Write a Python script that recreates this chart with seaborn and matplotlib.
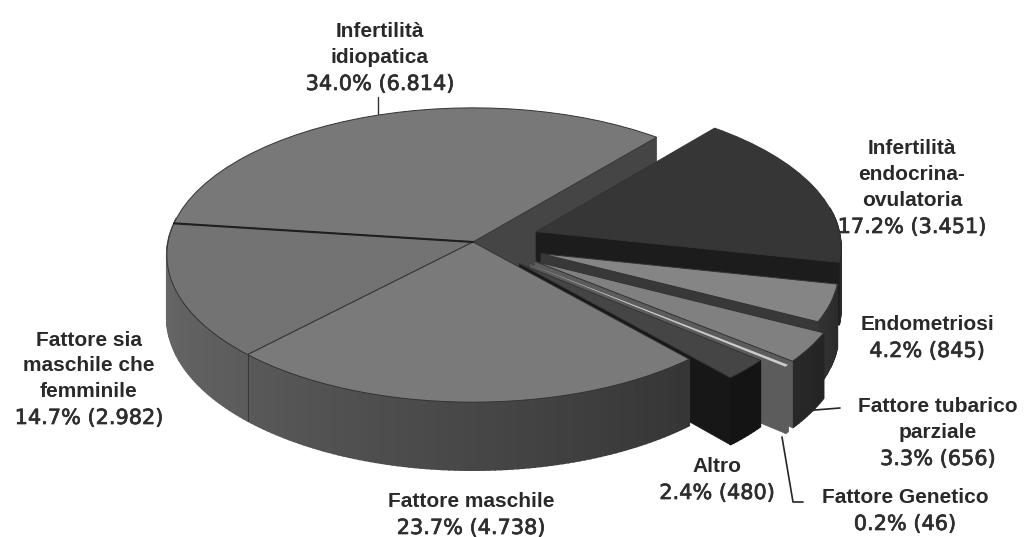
import numpy as np
import seaborn as sns
import matplotlib
matplotlib.use("Agg")
import matplotlib.pyplot as plt
import matplotlib.patheffects as pe
from matplotlib.path import Path
from matplotlib.transforms import Transform

# ---- data (counter-clockwise from the first slice) ----
names = ["Infertilità\nidiopatica", "Fattore sia\nmaschile che\nfemminile", "Fattore maschile",
         "Altro", "Fattore Genetico", "Fattore tubarico\nparziale", "Endometriosi",
         "Infertilità\nendocrina-\novulatoria"]
counts = [6814, 2982, 4738, 480, 46, 656, 845, 3451]
percents = ["34.0%", "14.7%", "23.7%", "2.4%", "0.2%", "3.3%", "4.2%", "17.2%"]
count_labels = ["6.814", "2.982", "4.738", "480", "46", "656", "845", "3.451"]

# ---- styling ----
explode = [0, 0, 0, 0.21, 0.24, 0.24, 0.235, 0.22]
radii = [1, 1, 1, 0.95, 1, 1, 0.965, 1]
top_grays = [0.47, 0.45, 0.48, 0.27, 0.80, 0.50, 0.52, 0.21]
side_from = [0.30, 0.42, 0.35, 0.08, 0.36, 0.16, 0.20, 0.17]
side_to = [0.30, 0.36, 0.21, 0.08, 0.36, 0.14, 0.17, 0.17]
face_grays = [0.27, None, None, 0.09, 0.36, 0.36, 0.22, 0.11]
paint_order = [0, 1, 7, 6, 5, 4, 3, 2]
# x centre of each label and y of the centre of its value line
label_pos = [(380, 83), (89, 417), (471, 527), (717, 492), (905, 523), (938, 458), (927, 350), (912, 226)]

CX, CY, A, B, K, DEPTH = 473.0, 242.0, 305.0, 146.0, 0.0884, 62.0
START = 50


def project(u, v, z=0.0):
    u, v = np.asarray(u, float), np.asarray(v, float)
    w = 1.0 / (1.0 + K * v)
    return CX + A * u * w, CY - B * v * w + z * w


class Perspective(Transform):
    input_dims = output_dims = 2
    is_separable = False
    has_inverse = False

    def transform_non_affine(self, values):
        x, y = project(values[:, 0], values[:, 1])
        return np.column_stack([x, y])

    def transform_path_non_affine(self, path):
        return Path(self.transform_non_affine(path.vertices), path.codes)


sns.set_theme(style="white")
plt.rcParams["font.family"] = ["Liberation Sans", "DejaVu Sans"]

fig = plt.figure(figsize=(10.34, 5.37), dpi=100, facecolor="white")
ax = fig.add_axes([0, 0, 1, 1])
wedges, _ = ax.pie(counts, explode=explode, startangle=START, radius=1, normalize=True,
                   colors=[str(g) for g in top_grays],
                   wedgeprops=dict(edgecolor="0.2", linewidth=0.7))
ax.set_aspect("auto")
ax.set_xlim(0, 1034)
ax.set_ylim(537, 0)
ax.axis("off")

persp = Perspective() + ax.transData
for rank, i in enumerate(paint_order):
    wd = wedges[i]
    wd.set_radius(radii[i])
    wd.set_transform(persp)
    wd.set_clip_on(False)
    base = 10 + rank * 3
    wd.set_zorder(base + 2)
    if i == 4:
        wd.set_edgecolor("none")
        wd.set_linewidth(0)
    cu, cv = wd.center
    r = wd.r

    # outer wall, following the slice's own angles
    angles = np.linspace(wd.theta1, wd.theta2, max(2, int(wd.theta2 - wd.theta1) + 2))
    for j in range(len(angles) - 1):
        a0, a1 = np.radians(angles[j]), np.radians(angles[j + 1])
        if np.sin((a0 + a1) / 2) > 0.16:
            continue
        us = cu + r * np.array([np.cos(a0), np.cos(a1)])
        vs = cv + r * np.array([np.sin(a0), np.sin(a1)])
        xt, yt = project(us, vs)
        xb, yb = project(us, vs, DEPTH)
        t = j / max(1, len(angles) - 2)
        g = str(side_from[i] + (side_to[i] - side_from[i]) * t)
        ax.fill([xt[0], xt[1], xb[1], xb[0]], [yt[0], yt[1], yb[1], yb[0]],
                color=g, lw=1.2, zorder=base)

    # radial wall on the slice's first edge, where one can be seen
    if face_grays[i] is not None:
        a0 = np.radians(wd.theta1)
        us = np.array([cu, cu + r * np.cos(a0)])
        vs = np.array([cv, cv + r * np.sin(a0)])
        xt, yt = project(us, vs)
        xb, yb = project(us, vs, DEPTH)
        ax.fill([xt[0], xt[1], xb[1], xb[0]], [yt[0], yt[1], yb[1], yb[0]],
                color=str(face_grays[i]), lw=0.5, zorder=base + 1)

# seams: vertical one on the left wall, heavier one between the two back slices
seam = np.radians(wedges[1].theta2)
xs, ys = project(np.cos(seam), np.sin(seam))
xe, ye = project(np.cos(seam), np.sin(seam), DEPTH)
ax.plot([xs, xe], [ys, ye], color="0.2", lw=0.6, zorder=40)
div = np.radians(wedges[1].theta1)
xd, yd = project(np.array([0, np.cos(div)]), np.array([0, np.sin(div)]))
ax.plot(xd, yd, color="0.12", lw=1.5, zorder=40)

for name, pct, cnt, (x, y) in zip(names, percents, count_labels, label_pos):
    ax.text(x, y - 20, name, ha="center", va="baseline", multialignment="center", fontsize=15,
            fontweight="bold", color="0.16", linespacing=1.45, zorder=50)
    ax.text(x, y + 7, f"{pct} ({cnt})", ha="center", va="baseline", fontsize=15,
            family=["DejaVu Sans"], color="0.18", zorder=50,
            path_effects=[pe.withStroke(linewidth=0.5, foreground="0.18")])

# leader lines
ax.plot([378, 378], [97, 114], color="0.2", lw=1, zorder=45)
ax.plot([800, 815, 840], [413, 410, 408], color="0.15", lw=1.2, zorder=45)
ax.plot([782, 793, 803], [437, 502, 502], color="0.15", lw=1.2, zorder=45)

fig.savefig("out.png", dpi=100, facecolor="white")
